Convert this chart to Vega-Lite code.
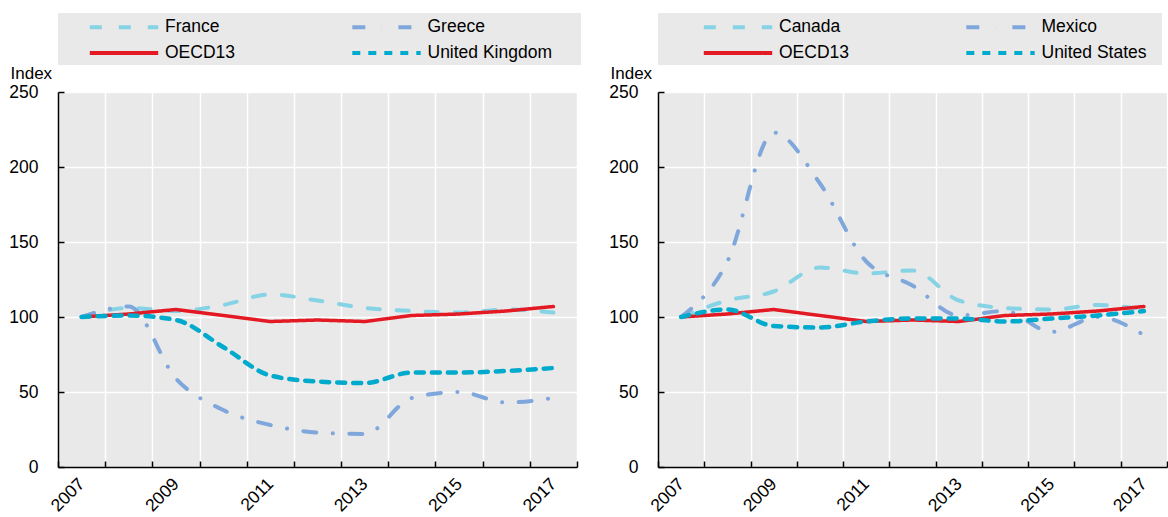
{
  "$schema": "https://vega.github.io/schema/vega-lite/v6.json",
  "padding": {"left": 8, "top": 13, "right": 0, "bottom": 0},
  "config": {
    "font": "Liberation Sans",
    "view": {"fill": "#e9e9e9", "stroke": null},
    "axis": {
      "labelFont": "Liberation Sans", "labelFontSize": 17.5, "labelColor": "#000",
      "domainColor": "#000", "domainWidth": 1.5,
      "tickColor": "#000", "tickWidth": 1.5, "tickSize": -6,
      "gridColor": "#ffffff", "gridWidth": 1.5, "gridOpacity": 1,
      "titleFont": "Liberation Sans", "titleFontSize": 17, "titleFontWeight": "normal", "titleColor": "#000"
    },
    "legend": {
      "orient": "top", "columns": 2,
      "symbolType": "M-3.8,0H3.8", "symbolSize": 324, "symbolStrokeWidth": 4,
      "labelFont": "Liberation Sans", "labelFontSize": 17.5, "labelColor": "#000", "labelOffset": 30,
      "rowPadding": 6, "padding": 3,
      "fillColor": "#e9e9e9", "offset": 27, "labelLimit": 300,
      "titleOrient": "right", "titleFontSize": 17.5
    }
  },
  "datasets": {
    "left": [
      {"country": "France", "year": 2007, "value": 100}, {"country": "France", "year": 2008, "value": 106}, {"country": "France", "year": 2009, "value": 104}, {"country": "France", "year": 2010, "value": 108}, {"country": "France", "year": 2011, "value": 115}, {"country": "France", "year": 2012, "value": 111}, {"country": "France", "year": 2013, "value": 106}, {"country": "France", "year": 2014, "value": 104}, {"country": "France", "year": 2015, "value": 103}, {"country": "France", "year": 2016, "value": 105}, {"country": "France", "year": 2017, "value": 103},
      {"country": "Greece", "year": 2007, "value": 100}, {"country": "Greece", "year": 2008, "value": 107}, {"country": "Greece", "year": 2009, "value": 59}, {"country": "Greece", "year": 2010, "value": 38}, {"country": "Greece", "year": 2011, "value": 28}, {"country": "Greece", "year": 2012, "value": 23}, {"country": "Greece", "year": 2013, "value": 22}, {"country": "Greece", "year": 2014, "value": 46}, {"country": "Greece", "year": 2015, "value": 50}, {"country": "Greece", "year": 2016, "value": 43}, {"country": "Greece", "year": 2017, "value": 46},
      {"country": "OECD13", "year": 2007, "value": 100}, {"country": "OECD13", "year": 2008, "value": 102}, {"country": "OECD13", "year": 2009, "value": 105}, {"country": "OECD13", "year": 2010, "value": 101}, {"country": "OECD13", "year": 2011, "value": 97}, {"country": "OECD13", "year": 2012, "value": 98}, {"country": "OECD13", "year": 2013, "value": 97}, {"country": "OECD13", "year": 2014, "value": 101}, {"country": "OECD13", "year": 2015, "value": 102}, {"country": "OECD13", "year": 2016, "value": 104}, {"country": "OECD13", "year": 2017, "value": 107},
      {"country": "United Kingdom", "year": 2007, "value": 100}, {"country": "United Kingdom", "year": 2008, "value": 101}, {"country": "United Kingdom", "year": 2009, "value": 98}, {"country": "United Kingdom", "year": 2010, "value": 80}, {"country": "United Kingdom", "year": 2011, "value": 61}, {"country": "United Kingdom", "year": 2012, "value": 57}, {"country": "United Kingdom", "year": 2013, "value": 56}, {"country": "United Kingdom", "year": 2014, "value": 63}, {"country": "United Kingdom", "year": 2015, "value": 63}, {"country": "United Kingdom", "year": 2016, "value": 64}, {"country": "United Kingdom", "year": 2017, "value": 66}
    ],
    "right": [
      {"country": "Canada", "year": 2007, "value": 100}, {"country": "Canada", "year": 2008, "value": 111}, {"country": "Canada", "year": 2009, "value": 117}, {"country": "Canada", "year": 2010, "value": 133}, {"country": "Canada", "year": 2011, "value": 129}, {"country": "Canada", "year": 2012, "value": 131}, {"country": "Canada", "year": 2013, "value": 111}, {"country": "Canada", "year": 2014, "value": 106}, {"country": "Canada", "year": 2015, "value": 105}, {"country": "Canada", "year": 2016, "value": 108}, {"country": "Canada", "year": 2017, "value": 105},
      {"country": "Mexico", "year": 2007, "value": 100}, {"country": "Mexico", "year": 2008, "value": 137}, {"country": "Mexico", "year": 2009, "value": 223}, {"country": "Mexico", "year": 2010, "value": 189}, {"country": "Mexico", "year": 2011, "value": 137}, {"country": "Mexico", "year": 2012, "value": 121}, {"country": "Mexico", "year": 2013, "value": 101}, {"country": "Mexico", "year": 2014, "value": 104}, {"country": "Mexico", "year": 2015, "value": 90}, {"country": "Mexico", "year": 2016, "value": 100}, {"country": "Mexico", "year": 2017, "value": 88},
      {"country": "OECD13", "year": 2007, "value": 100}, {"country": "OECD13", "year": 2008, "value": 102}, {"country": "OECD13", "year": 2009, "value": 105}, {"country": "OECD13", "year": 2010, "value": 101}, {"country": "OECD13", "year": 2011, "value": 97}, {"country": "OECD13", "year": 2012, "value": 98}, {"country": "OECD13", "year": 2013, "value": 97}, {"country": "OECD13", "year": 2014, "value": 101}, {"country": "OECD13", "year": 2015, "value": 102}, {"country": "OECD13", "year": 2016, "value": 104}, {"country": "OECD13", "year": 2017, "value": 107},
      {"country": "United States", "year": 2007, "value": 100}, {"country": "United States", "year": 2008, "value": 105}, {"country": "United States", "year": 2009, "value": 94}, {"country": "United States", "year": 2010, "value": 93}, {"country": "United States", "year": 2011, "value": 97}, {"country": "United States", "year": 2012, "value": 99}, {"country": "United States", "year": 2013, "value": 99}, {"country": "United States", "year": 2014, "value": 97}, {"country": "United States", "year": 2015, "value": 99}, {"country": "United States", "year": 2016, "value": 101}, {"country": "United States", "year": 2017, "value": 104}
    ]
  },
  "spacing": 27,
  "resolve": {"scale": {"color": "independent", "strokeDash": "independent"}},
  "hconcat": [
    {
      "width": 519, "height": 375,
      "data": {"name": "left"},
      "encoding": {
        "x": {"field": "year", "type": "ordinal", "bandPosition": 0.5,
          "scale": {"type": "band", "paddingInner": 0, "paddingOuter": 0},
          "axis": {"title": null, "tickBand": "extent", "grid": true, "labelAngle": -45, "labelAlign": "right", "labelBaseline": "middle", "labelPadding": 20,
            "labelExpr": "datum.value % 2 == 1 ? datum.label : ''"}},
        "y": {"field": "value", "type": "quantitative",
          "scale": {"domain": [0, 250], "nice": false},
          "axis": {"values": [0, 50, 100, 150, 200, 250], "title": "Index", "titleAngle": 0, "titleAlign": "left", "titleBaseline": "alphabetic", "titleX": -48, "titleY": -14, "labelPadding": 26}},
        "color": {"field": "country", "type": "nominal",
          "scale": {"domain": ["France", "Greece", "OECD13", "United Kingdom"], "range": ["#85d3e4", "#7fa7dc", "#e31a23", "#00aacc"]},
          "legend": {"title": "\u00a0", "symbolOffset": 52, "columnPadding": 87.5, "titlePadding": 26}},
        "strokeDash": {"field": "country", "type": "nominal",
          "scale": {"domain": ["France", "Greece", "OECD13", "United Kingdom"], "range": [[12, 17], [13, 16.5, 0.1, 16.5], [1, 0], [8, 8]]},
          "legend": {"title": "\u00a0", "symbolOffset": 52, "columnPadding": 87.5, "titlePadding": 26}}
      },
      "layer": [
        {"transform": [{"filter": "datum.country === 'France' || datum.country === 'Greece'"}],
         "mark": {"type": "line", "interpolate": "monotone", "strokeWidth": 4, "strokeCap": "round"}},
        {"transform": [{"filter": "datum.country === 'OECD13'"}],
         "mark": {"type": "line", "interpolate": "linear", "strokeWidth": 3.5, "strokeCap": "round", "strokeJoin": "round"}},
        {"transform": [{"filter": "datum.country === 'United Kingdom'"}],
         "mark": {"type": "line", "interpolate": "monotone", "strokeWidth": 4.5, "strokeCap": "round"}}
      ]
    },
    {
      "width": 509, "height": 375,
      "data": {"name": "right"},
      "encoding": {
        "x": {"field": "year", "type": "ordinal", "bandPosition": 0.5,
          "scale": {"type": "band", "paddingInner": 0, "paddingOuter": 0},
          "axis": {"title": null, "tickBand": "extent", "grid": true, "labelAngle": -45, "labelAlign": "right", "labelBaseline": "middle", "labelPadding": 20,
            "labelExpr": "datum.value % 2 == 1 ? datum.label : ''"}},
        "y": {"field": "value", "type": "quantitative",
          "scale": {"domain": [0, 250], "nice": false},
          "axis": {"values": [0, 50, 100, 150, 200, 250], "title": "Index", "titleAngle": 0, "titleAlign": "left", "titleBaseline": "alphabetic", "titleX": -48, "titleY": -14, "labelPadding": 26}},
        "color": {"field": "country", "type": "nominal",
          "scale": {"domain": ["Canada", "Mexico", "OECD13", "United States"], "range": ["#85d3e4", "#7fa7dc", "#e31a23", "#00aacc"]},
          "legend": {"title": "\u00a0", "symbolOffset": 66, "columnPadding": 73.5, "titlePadding": 12}},
        "strokeDash": {"field": "country", "type": "nominal",
          "scale": {"domain": ["Canada", "Mexico", "OECD13", "United States"], "range": [[12, 17], [13, 16.5, 0.1, 16.5], [1, 0], [8, 8]]},
          "legend": {"title": "\u00a0", "symbolOffset": 66, "columnPadding": 73.5, "titlePadding": 12}}
      },
      "layer": [
        {"transform": [{"filter": "datum.country === 'Canada' || datum.country === 'Mexico'"}],
         "mark": {"type": "line", "interpolate": "monotone", "strokeWidth": 4, "strokeCap": "round"}},
        {"transform": [{"filter": "datum.country === 'OECD13'"}],
         "mark": {"type": "line", "interpolate": "linear", "strokeWidth": 3.5, "strokeCap": "round", "strokeJoin": "round"}},
        {"transform": [{"filter": "datum.country === 'United States'"}],
         "mark": {"type": "line", "interpolate": "monotone", "strokeWidth": 4.5, "strokeCap": "round"}}
      ]
    }
  ]
}
